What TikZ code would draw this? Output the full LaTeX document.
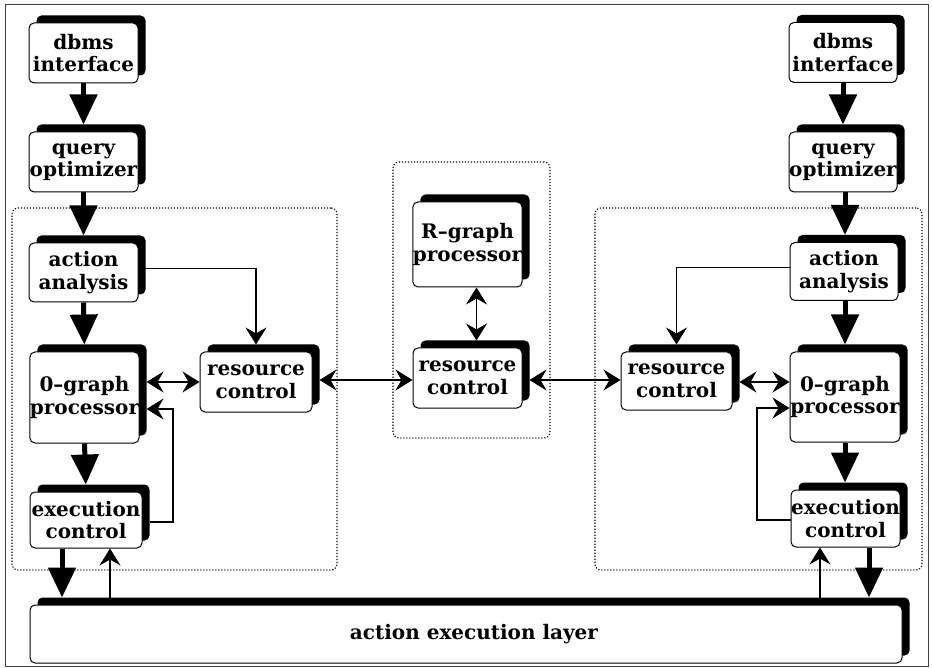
\documentclass[tikz,border=0pt]{standalone}
\usepackage{fontspec}
\setmainfont{DejaVu Serif}
\usetikzlibrary{arrows.meta,shadows,calc}

\tikzset{
  block/.style={draw, line width=1pt, rounded corners=5pt, fill=white,
    align=center, inner sep=0pt,
    font=\bfseries\fontsize{20}{22.5}\selectfont,
    general shadow={fill=black, shadow xshift=7.5pt, shadow yshift=7.5pt}},
  group/.style={draw, line width=1.1pt, dash pattern=on 1.2pt off 1.8pt,
    rounded corners=6pt, inner sep=0pt},
  flow/.style={line width=5pt, -{Triangle[length=30pt,width=27pt]}},
  link/.style={line width=1.1pt, -{Stealth[length=17pt,width=21pt,inset=6pt]}},
  duplex/.style={line width=1.1pt, {Stealth[length=17pt,width=21pt,inset=6pt]}-{Stealth[length=17pt,width=21pt,inset=6pt]}},
}

\begin{document}
\begin{tikzpicture}[x=1pt,y=-1pt]
\useasboundingbox (0,0) rectangle (932,668);
\draw[line width=0.8pt, black!75] (5,4) rectangle (928,666);

% dotted groupings
\node[group, minimum width=325pt, minimum height=362pt] (lgroup) at (174.5,389) {};
\node[group, minimum width=157pt, minimum height=276pt] (mgroup) at (471.5,300) {};
\node[group, minimum width=327pt, minimum height=362pt] (rgroup) at (758.5,389) {};

% left site
\node[block, minimum width=109pt, minimum height=60pt] (ldbms) at (83.5,53) {dbms\\interface};
\node[block, minimum width=109pt, minimum height=60pt] (lqo) at (83.5,162) {query\\optimizer};
\node[block, minimum width=109pt, minimum height=59pt] (laa) at (83.5,272.5) {action\\analysis};
\node[block, minimum width=109pt, minimum height=91pt] (log) at (84.5,397.5) {0–graph\\processor};
\node[block, minimum width=112pt, minimum height=56pt] (lec) at (86,520) {execution\\control};
\node[block, minimum width=112pt, minimum height=60pt] (lrc) at (256,382) {resource\\control};

% middle site
\node[block, minimum width=109pt, minimum height=85pt] (rg) at (467.5,244.5) {R–graph\\processor};
\node[block, minimum width=109pt, minimum height=60pt] (mrc) at (467.5,378) {resource\\control};

% right site
\node[block, minimum width=108pt, minimum height=60pt] (rdbms) at (843,52.5) {dbms\\interface};
\node[block, minimum width=108pt, minimum height=60pt] (rqo) at (843,162) {query\\optimizer};
\node[block, minimum width=108pt, minimum height=58pt] (raa) at (844,271.5) {action\\analysis};
\node[block, minimum width=111pt, minimum height=58pt] (rrc) at (676.5,381) {resource\\control};
\node[block, minimum width=110pt, minimum height=90pt] (rog) at (845,397) {0–graph\\processor};
\node[block, minimum width=109pt, minimum height=57pt] (rec) at (845.5,518.5) {execution\\control};

% shared layer
\node[block, minimum width=872pt, minimum height=58pt] (ael) at (466,634) {\hspace*{16pt}action execution layer};

% main flow, left
\draw[flow, shorten >=7pt] (ldbms.south) -- (lqo.north);
\draw[flow, shorten >=7pt] (lqo.south) -- (laa.north);
\draw[flow, shorten >=7pt] (laa.south) -- (log.north);
\draw[flow, shorten >=7pt] (log.south) -- (lec.north);
\draw[flow, shorten >=7pt] ([xshift=-24pt]lec.south) -- ([xshift=-24pt]lec.south |- ael.north);

% main flow, right
\draw[flow, shorten >=7pt] (rdbms.south) -- (rqo.north);
\draw[flow, shorten >=7pt] ([xshift=2pt]rqo.south) -- ([xshift=1pt]raa.north);
\draw[flow, shorten >=7pt] ([xshift=1pt]raa.south) -- (rog.north);
\draw[flow, shorten >=7pt] (rog.south) -- ([xshift=-0.5pt]rec.north);
\draw[flow, shorten >=7pt] ([xshift=23.5pt]rec.south) -- ([xshift=23.5pt]rec.south |- ael.north);

% feedback from the layer
\draw[link, shorten <=7pt] ([xshift=24pt]lec.south |- ael.north) -- ([xshift=24pt]lec.south);
\draw[link, shorten <=7pt] ([xshift=-25.5pt]rec.south |- ael.north) -- ([xshift=-25.5pt]rec.south);

% action analysis to resource control
\draw[link, shorten >=7pt] ([yshift=4pt]laa.east) -| (lrc.north);
\draw[link, shorten >=7pt] ([yshift=4pt]raa.west) -| (rrc.north);

% execution control back to the 0-graph processor
\coordinate (lbend) at (173,409);
\draw[link, shorten <=7pt, shorten >=7pt] ([yshift=-2pt]lec.east) -| (lbend) -- (log.east |- lbend);
\coordinate (rbend) at (757,408);
\draw[link] ([yshift=-1.5pt]rec.west) -| (rbend) -- (rog.west |- rbend);

% resource control exchanges
\coordinate (lrcE) at ([yshift=2pt]lrc.east);
\coordinate (mrcE) at ([yshift=-2pt]mrc.east);
\coordinate (rrcE) at ([yshift=-1pt]rrc.east);
\draw[duplex, shorten <=7pt] (log.east |- lrc.west) -- (lrc.west);
\draw[duplex, shorten <=7pt] (lrcE) -- (mrc.west |- lrcE);
\draw[duplex, shorten <=7pt] (mrcE) -- (rrc.west |- mrcE);
\draw[duplex, shorten <=7pt] (rrcE) -- (rog.west |- rrcE);
\draw[duplex, shorten >=7pt] ([xshift=9pt]rg.south) -- ([xshift=9pt]mrc.north);
\end{tikzpicture}
\end{document}
